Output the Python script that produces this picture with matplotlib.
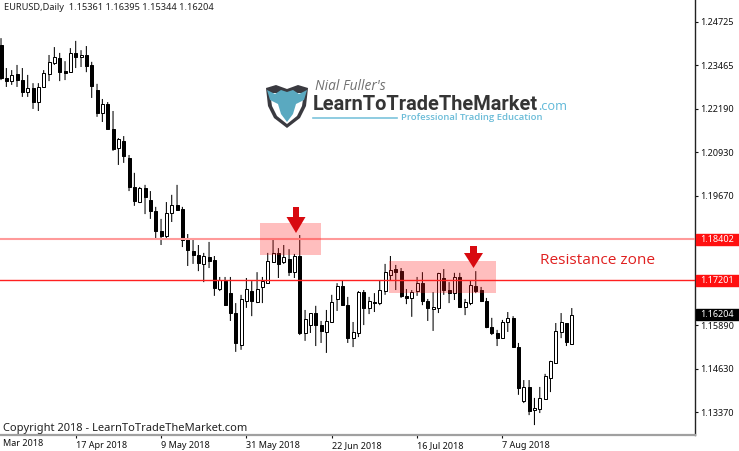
import numpy as np
import matplotlib
matplotlib.use('Agg')
import matplotlib.pyplot as plt
from matplotlib.patches import Polygon, Rectangle

# daily EURUSD candles
opens = [1.2405,1.2309,1.2300,1.2321,1.2303,1.2268,1.2280,1.2239,1.2283,1.2321,1.2353,1.2367,1.2329,1.2326,1.2382,1.2370,1.2376,1.2347,1.2274,1.2207,
         1.2233,1.2161,1.2105,1.2126,1.2076,1.1992,1.1948,1.1989,1.1954,1.1922,1.1864,1.1849,1.1916,1.1939,1.1928,1.1841,1.1806,1.1794,1.1768,1.1788,
         1.1779,1.1695,1.1718,1.1683,1.1625,1.1532,1.1660,1.1689,1.1657,1.1701,1.1712,1.1774,1.1800,1.1774,1.1782,1.1744,1.1791,1.1567,1.1590,1.1625,
         1.1590,1.1570,1.1599,1.1666,1.1704,1.1648,1.1552,1.1567,1.1686,1.1640,1.1657,1.1654,1.1689,1.1736,1.1753,1.1747,1.1675,1.1669,1.1689,1.1712,
         1.1660,1.1637,1.1640,1.1727,1.1692,1.1683,1.1730,1.1643,1.1654,1.1704,1.1692,1.1660,1.1584,1.1567,1.1552,1.1599,1.1611,1.1526,1.1369,1.1410,
         1.1343,1.1346,1.1375,1.1436,1.1480,1.1570,1.1596,1.15361]
highs = [1.2425,1.2338,1.2332,1.2347,1.2338,1.2318,1.2294,1.2294,1.2332,1.2376,1.2399,1.2382,1.2358,1.2396,1.2417,1.2390,1.2402,1.2356,1.2292,1.2248,
         1.2239,1.2213,1.2134,1.2140,1.2085,1.2033,1.1992,1.1998,1.1980,1.1934,1.1899,1.1948,1.1969,1.1998,1.1934,1.1855,1.1838,1.1823,1.1800,1.1832,
         1.1791,1.1730,1.1730,1.1730,1.1654,1.1678,1.1727,1.1718,1.1744,1.1730,1.1800,1.1841,1.1814,1.1823,1.1811,1.1797,1.1852,1.1634,1.1625,1.1646,
         1.1602,1.1634,1.1678,1.1712,1.1721,1.1672,1.1599,1.1689,1.1692,1.1672,1.1683,1.1721,1.1768,1.1791,1.1765,1.1756,1.1695,1.1692,1.1730,1.1744,
         1.1666,1.1686,1.1742,1.1753,1.1715,1.1742,1.1742,1.1666,1.1721,1.1747,1.1701,1.1669,1.1611,1.1576,1.1605,1.1628,1.1616,1.1538,1.1430,1.1430,
         1.1378,1.1410,1.1448,1.1486,1.1596,1.1625,1.1596,1.16395]
lows = [1.2303,1.2283,1.2289,1.2283,1.2254,1.2254,1.2219,1.2213,1.2280,1.2300,1.2347,1.2300,1.2303,1.2324,1.2338,1.2341,1.2326,1.2251,1.2196,1.2181,
        1.2161,1.2097,1.2056,1.2062,1.1980,1.1937,1.1945,1.1913,1.1899,1.1838,1.1823,1.1843,1.1890,1.1922,1.1817,1.1762,1.1768,1.1747,1.1715,1.1756,
        1.1675,1.1689,1.1646,1.1602,1.1512,1.1518,1.1640,1.1616,1.1654,1.1654,1.1710,1.1771,1.1727,1.1768,1.1733,1.1727,1.1561,1.1544,1.1567,1.1529,
        1.1538,1.1509,1.1596,1.1631,1.1648,1.1538,1.1526,1.1555,1.1590,1.1622,1.1628,1.1648,1.1678,1.1721,1.1692,1.1669,1.1651,1.1614,1.1675,1.1648,
        1.1602,1.1573,1.1625,1.1678,1.1654,1.1663,1.1640,1.1619,1.1648,1.1683,1.1657,1.1581,1.1561,1.1529,1.1552,1.1570,1.1526,1.1387,1.1363,1.1328,
        1.1299,1.1334,1.1372,1.1395,1.1480,1.1552,1.1529,1.15344]
closes = [1.2309,1.2300,1.2318,1.2303,1.2268,1.2280,1.2239,1.2283,1.2324,1.2356,1.2370,1.2326,1.2324,1.2382,1.2370,1.2376,1.2344,1.2286,1.2207,1.2233,
          1.2161,1.2102,1.2132,1.2082,1.1992,1.1951,1.1989,1.1963,1.1922,1.1864,1.1849,1.1916,1.1939,1.1925,1.1838,1.1808,1.1794,1.1771,1.1791,1.1776,
          1.1698,1.1721,1.1648,1.1625,1.1538,1.1666,1.1695,1.1660,1.1695,1.1718,1.1776,1.1800,1.1768,1.1788,1.1744,1.1791,1.1567,1.1608,1.1625,1.1590,
          1.1573,1.1602,1.1657,1.1704,1.1648,1.1552,1.1570,1.1686,1.1640,1.1660,1.1654,1.1692,1.1744,1.1750,1.1744,1.1675,1.1669,1.1686,1.1712,1.1660,
          1.1640,1.1643,1.1742,1.1692,1.1683,1.1730,1.1643,1.1657,1.1707,1.1689,1.1660,1.1584,1.1567,1.1552,1.1599,1.1611,1.1526,1.1407,1.1410,1.1340,
          1.1349,1.1378,1.1442,1.1486,1.1573,1.1599,1.1541,1.16204]

price_ticks = [1.24725, 1.23465, 1.22190, 1.20930, 1.19670, 1.15890, 1.14630, 1.13370]
date_ticks = [14, 30, 46, 62, 78, 94]
date_labels = ['17 Apr 2018', '9 May 2018', '31 May 2018', '22 Jun 2018', '16 Jul 2018', '7 Aug 2018']
level_top = 1.18402
level_low = 1.17201
last_price = 1.16204

UI_SIZE = 6.5
plt.rcParams['font.family'] = ['Noto Sans', 'DejaVu Sans']

fig = plt.figure(figsize=(7.39, 4.51), dpi=100)
ax = fig.add_axes([0, 16 / 451, 695 / 739, 435 / 451])
ax.set_xlim(-0.19, 130.1)
ax.set_ylim(1.12701, 1.2536)

opens = np.array(opens)
closes = np.array(closes)
x = np.arange(len(opens))
ax.vlines(x, lows, highs, color='black', lw=0.75, snap=False, zorder=2)
faces = ['white' if c >= o else 'black' for o, c in zip(opens, closes)]
ax.bar(x, np.abs(closes - opens), bottom=np.minimum(opens, closes), width=0.56,
       color=faces, edgecolor='black', lw=0.72, zorder=3)

ax.axhline(level_top, color='#ff9a9a', lw=1.5, zorder=4)
ax.axhline(level_low, color='#ff2020', lw=1.0, zorder=4)

ax.spines['top'].set_visible(False)
ax.spines['left'].set_visible(False)
ax.spines['right'].set_color('#222222')
ax.spines['right'].set_linewidth(1.0)
ax.spines['bottom'].set_color('#a0a0a0')
ax.spines['bottom'].set_linewidth(1.6)

ax.yaxis.tick_right()
ax.set_yticks(price_ticks)
ax.set_yticklabels(['%.5f' % p for p in price_ticks])
ax.tick_params(axis='y', length=2, width=0.8, pad=1.8, labelsize=UI_SIZE, colors='#111111')
ax.set_xticks(date_ticks)
ax.set_xticklabels(date_labels, ha='left')
ax.tick_params(axis='x', length=2, width=0.8, pad=2.2, labelsize=UI_SIZE, colors='#111111')

# price boxes on the right hand scale
for price, col in [(level_top, '#ff1010'), (level_low, '#ff1010'), (last_price, 'black')]:
    ax.add_patch(Rectangle((1.002, price - 0.0016), 0.0615, 0.0032, transform=ax.get_yaxis_transform(),
                           color=col, clip_on=False, zorder=5))
    ax.text(1.0072, price, '%.5f' % price, transform=ax.get_yaxis_transform(), color='white',
            fontsize=UI_SIZE, va='center', zorder=6)

# overlay in pixel coordinates for the annotations and the logo
ov = fig.add_axes([0, 0, 1, 1], zorder=10)
ov.set_xlim(0, 739)
ov.set_ylim(451, 0)
ov.axis('off')
ov.patch.set_alpha(0)

ov.add_patch(Rectangle((260, 223), 61, 32, color='#ff2020', alpha=0.29, lw=0))
ov.add_patch(Rectangle((389, 261), 107, 32, color='#ff2020', alpha=0.29, lw=0))


def down_arrow(cx, top, neck, tip, half_stem, half_head):
    pts = [(cx - half_stem, top), (cx + half_stem, top), (cx + half_stem, neck), (cx + half_head, neck),
           (cx, tip), (cx - half_head, neck), (cx - half_stem, neck)]
    ov.add_patch(Polygon(pts, color='#d80a10', lw=0))


down_arrow(296, 207, 217, 233, 3, 9.5)
down_arrow(473.5, 246, 253, 268, 3.5, 9.5)

ov.text(540, 261, 'Resistance zone', color='#e02020', fontsize=11.1, va='center', family='Open Sans')
ov.text(4, 7, 'EURUSD,Daily  1.15361 1.16395 1.15344 1.16204', fontsize=UI_SIZE + 0.15, va='center', color='#222222')
ov.text(3, 443.5, 'Mar 2018', fontsize=UI_SIZE, va='center', color='#111111')
ov.text(3, 429, 'Copyright 2018 - LearnToTradeTheMarket.com', fontsize=8.0, va='center', color='#222222')

# logo: dark shield, white gap, blue bull head
ov.add_patch(Polygon([(266, 88), (276, 85), (287, 89), (298, 85), (308, 88), (306, 106), (300, 118), (287, 128),
                      (274, 118), (268, 106)], color='#3a3a40', lw=0))
ov.add_patch(Polygon([(270, 93), (304, 93), (302, 106), (297, 116), (287, 124), (277, 116), (272, 106)],
                     color='white', lw=0))
ov.add_patch(Polygon([(267, 90), (275, 94), (281, 90), (287, 92), (293, 90), (299, 94), (307, 90), (304, 100),
                      (296, 104), (293, 114), (287, 122), (281, 114), (278, 104), (270, 100)],
                     color='#5aa9c0', lw=0))
ov.text(315, 87, "Nial Fuller's", fontsize=9.9, style='italic', color='#707070', va='center', family='Open Sans')
ov.text(313, 104, 'LearnToTradeTheMarket', fontsize=14.4, weight='bold', color='#353535', va='center', family='Roboto')
ov.text(538, 107, '.com', fontsize=9.2, color='#5fb8d8', va='center', family='Open Sans')
ov.plot([313, 397], [118, 118], color='#7cc4dc', lw=1.2)
ov.text(401, 118, 'Professional Trading Education', fontsize=6.8, weight='semibold', color='#6bbcd8', va='center', family='Open Sans')

fig.savefig('out.png', dpi=100)
